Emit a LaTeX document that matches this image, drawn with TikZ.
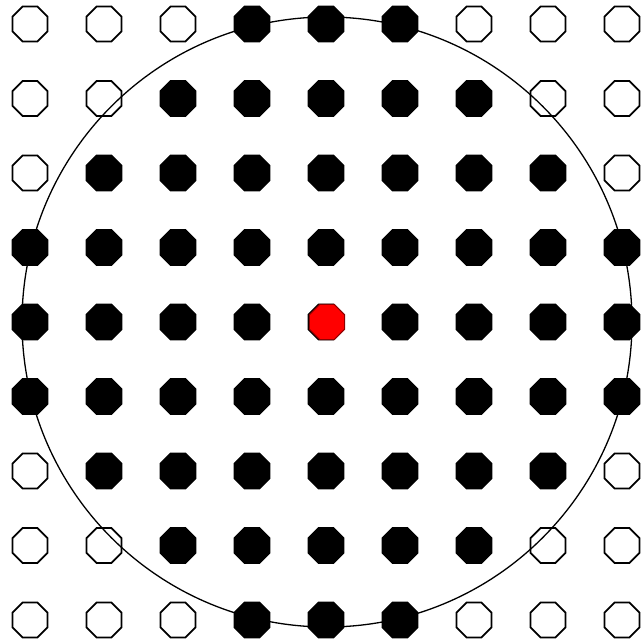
\documentclass[tikz,border=0pt]{standalone}
\usetikzlibrary{shapes.geometric}
\begin{document}
\begin{tikzpicture}[x=1pt,y=-1pt,
  dotbase/.style={regular polygon, regular polygon sides=8, minimum size=38pt, inner sep=0pt, line width=1.8pt, draw=black},
  emptydot/.style={dotbase, fill=white},
  fulldot/.style={dotbase, fill=black},
  reddot/.style={dotbase, fill=red, draw=red!55!black, line width=1pt}]
\useasboundingbox[fill=white] (0,0) rectangle (641,643);
\foreach \r/\lo/\hi in {0/3/5,1/2/6,2/1/7,3/0/8,4/0/8,5/0/8,6/1/7,7/2/6,8/3/5}{
  \foreach \c in {0,...,8}{
    \pgfmathsetmacro{\px}{30+74*\c}
    \pgfmathsetmacro{\py}{24+74.5*\r}
    \ifnum\c<\lo
      \node[emptydot] (d-\r-\c) at (\px,\py) {};
    \else\ifnum\c>\hi
      \node[emptydot] (d-\r-\c) at (\px,\py) {};
    \else
      \node[fulldot] (d-\r-\c) at (\px,\py) {};
    \fi\fi
  }
}
\node[reddot] (d-4-4) at (327,322) {};
\draw[line width=1.3pt] (d-4-4.center) circle[radius=305];
\end{tikzpicture}
\end{document}
